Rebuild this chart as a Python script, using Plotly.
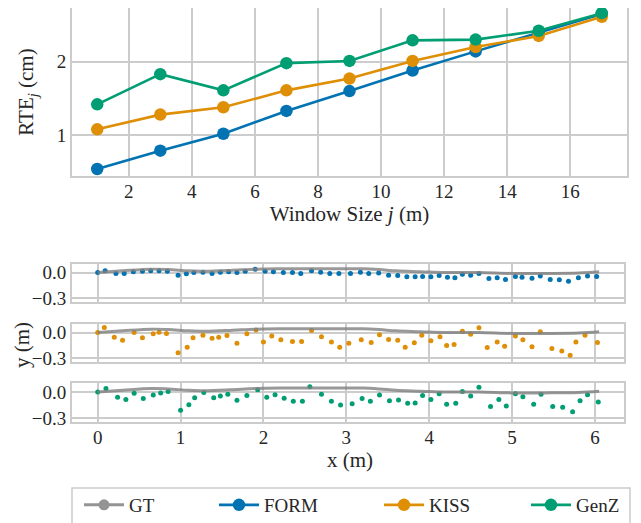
import plotly.graph_objects as go

# ---------------- data ----------------
window_sizes = [1, 3, 5, 7, 9, 11, 13, 15, 17]
rte_form = [0.54, 0.79, 1.02, 1.33, 1.60, 1.88, 2.14, 2.40, 2.65]
rte_kiss = [1.08, 1.28, 1.38, 1.61, 1.77, 2.01, 2.20, 2.35, 2.61]
rte_genz = [1.42, 1.83, 1.61, 1.98, 2.01, 2.29, 2.30, 2.42, 2.66]

gt_x = [0.0, 0.3, 0.65, 0.85, 1.1, 1.3, 1.6, 1.9, 2.2, 2.6, 3.0, 3.2, 3.4, 3.6, 3.9,
        4.2, 4.6, 5.0, 5.4, 5.8, 6.05]
gt_y = [0.0, 0.02, 0.04, 0.035, 0.02, 0.015, 0.025, 0.04, 0.045, 0.045, 0.045, 0.045,
        0.035, 0.02, 0.01, 0.0, 0.0, -0.01, -0.01, -0.005, 0.01]

form_x = [0.0, 0.09, 0.22, 0.32, 0.43, 0.54, 0.64, 0.74, 0.84, 0.97, 1.07, 1.16, 1.27,
          1.38, 1.48, 1.58, 1.68, 1.78, 1.90, 2.02, 2.12, 2.24, 2.35, 2.45, 2.58, 2.69,
          2.80, 2.91, 3.05, 3.17, 3.27, 3.39, 3.51, 3.62, 3.73, 3.83, 3.92, 4.02, 4.12,
          4.22, 4.31, 4.40, 4.50, 4.60, 4.72, 4.82, 4.92, 5.04, 5.12, 5.24, 5.34, 5.46,
          5.57, 5.68, 5.80, 5.91, 6.02]
form_y = [0.0, 0.02, -0.01, -0.01, 0.01, 0.015, 0.02, 0.02, 0.015, -0.03, -0.015, 0.0,
          0.005, -0.01, 0.005, 0.01, 0.0, 0.015, 0.04, 0.015, 0.01, 0.0, 0.0, -0.01,
          0.02, 0.005, -0.01, -0.01, -0.01, 0.005, -0.01, -0.005, -0.03, -0.035, -0.05,
          -0.05, -0.045, -0.05, -0.035, -0.055, -0.06, -0.02, -0.03, -0.01, -0.07, -0.06,
          -0.08, -0.045, -0.055, -0.065, -0.04, -0.08, -0.085, -0.10, -0.06, -0.04, -0.045]

kiss_x = [0.0, 0.08, 0.20, 0.30, 0.44, 0.54, 0.67, 0.74, 0.83, 0.97, 1.08, 1.15, 1.27,
          1.38, 1.46, 1.56, 1.68, 1.80, 1.91, 2.00, 2.10, 2.21, 2.35, 2.46, 2.58, 2.70,
          2.82, 2.92, 3.03, 3.18, 3.30, 3.40, 3.51, 3.62, 3.71, 3.82, 3.91, 4.02, 4.13,
          4.21, 4.30, 4.40, 4.50, 4.60, 4.70, 4.82, 4.91, 5.04, 5.13, 5.24, 5.34, 5.48,
          5.60, 5.70, 5.77, 5.88, 6.03]
kiss_y = [0.0, 0.06, -0.055, -0.09, 0.0, -0.06, -0.015, 0.005, -0.01, -0.235, -0.17,
          -0.06, -0.03, -0.065, -0.055, -0.035, -0.125, -0.015, 0.03, -0.11, -0.04,
          -0.085, -0.105, -0.105, 0.025, -0.05, -0.11, -0.17, -0.125, -0.085, -0.115,
          -0.025, -0.08, -0.09, -0.17, -0.12, -0.03, -0.095, -0.05, -0.15, -0.14, 0.015,
          -0.02, 0.055, -0.175, -0.11, -0.16, -0.04, -0.085, -0.165, 0.01, -0.185,
          -0.215, -0.265, -0.11, -0.03, -0.115]

genz_x = [0.0, 0.10, 0.24, 0.34, 0.44, 0.55, 0.67, 0.76, 0.85, 1.00, 1.10, 1.17, 1.28,
          1.40, 1.48, 1.57, 1.68, 1.80, 1.93, 2.04, 2.14, 2.25, 2.36, 2.47, 2.56, 2.70,
          2.82, 2.93, 3.07, 3.19, 3.29, 3.40, 3.52, 3.63, 3.74, 3.83, 3.92, 4.02, 4.12,
          4.21, 4.32, 4.40, 4.50, 4.60, 4.74, 4.84, 4.93, 5.04, 5.13, 5.26, 5.35, 5.49,
          5.61, 5.73, 5.82, 5.91, 6.04]
genz_y = [0.0, 0.04, -0.06, -0.085, -0.015, -0.075, -0.035, -0.01, 0.005, -0.21, -0.145,
          -0.065, -0.005, -0.065, -0.045, -0.025, -0.095, -0.04, 0.025, -0.06, -0.03,
          -0.07, -0.105, -0.105, 0.06, -0.025, -0.105, -0.15, -0.135, -0.075, -0.105,
          -0.035, -0.10, -0.09, -0.13, -0.125, -0.04, -0.085, -0.02, -0.14, -0.13, 0.005,
          -0.045, 0.055, -0.165, -0.085, -0.16, -0.02, -0.055, -0.14, -0.025, -0.165,
          -0.175, -0.225, -0.10, -0.03, -0.115]

top_xticks = [2, 4, 6, 8, 10, 12, 14, 16]
top_yticks = [1, 2]
bot_xticks = [0, 1, 2, 3, 4, 5, 6]
bot_yticks = [-0.3, 0.0]

# ---------------- style ----------------
PAGE_W, PAGE_H = 641, 523
OFF = 8  # default page margin around the plot div
W, H = PAGE_W - OFF, PAGE_H - OFF
C_GT = "#949494"
C_FORM = "#0173b2"
C_KISS = "#de8f05"
C_GENZ = "#029e73"
FONT = "Liberation Serif, Times New Roman, serif"
GRID = "#cccccc"
TXT = "#262626"
TICK_SIZE = 19
LABEL_SIZE = 21


def px_x(v):
    return min(1.0, max(0.0, (v - OFF) / W))


def px_y(v):
    return 1 - (v - OFF) / H


def clampy(v):
    return min(1.0, max(0.0, px_y(v)))


fig = go.Figure()

# legend proxy for GT
fig.add_trace(go.Scatter(x=[None], y=[None], mode="lines+markers", name="GT",
                         line=dict(color=C_GT, width=3), marker=dict(size=11, color=C_GT),
                         xaxis="x", yaxis="y", legend="legend"))
for name, vals, col, lg in [("FORM", rte_form, C_FORM, "legend2"),
                            ("KISS", rte_kiss, C_KISS, "legend3"),
                            ("GenZ", rte_genz, C_GENZ, "legend4")]:
    fig.add_trace(go.Scatter(x=window_sizes, y=vals, mode="lines+markers", name=name,
                             line=dict(color=col, width=2.6),
                             marker=dict(size=12.5, color=col),
                             xaxis="x", yaxis="y", legend=lg))

panels = [("x2", "y2", form_x, form_y, C_FORM),
          ("x3", "y3", kiss_x, kiss_y, C_KISS),
          ("x4", "y4", genz_x, genz_y, C_GENZ)]
for xa, ya, px, py, col in panels:
    fig.add_trace(go.Scatter(x=px, y=py, mode="markers", showlegend=False,
                             marker=dict(size=5, color=col), xaxis=xa, yaxis=ya))
    fig.add_trace(go.Scatter(x=gt_x, y=gt_y, mode="lines", showlegend=False,
                             line=dict(color="rgba(128,128,128,0.8)", width=3,
                                       shape="spline", smoothing=1.0),
                             xaxis=xa, yaxis=ya))

axis_common = dict(showgrid=True, gridcolor=GRID, gridwidth=1.5, zeroline=False,
                   showline=True, linecolor=GRID, linewidth=2, mirror=True, ticks="",
                   automargin=False,
                   tickfont=dict(family=FONT, size=TICK_SIZE, color=TXT))


def legend_at(xpage):
    return dict(orientation="h", x=px_x(xpage), y=px_y(486), xanchor="left",
                yanchor="top", borderwidth=0, bgcolor="rgba(0,0,0,0)",
                font=dict(family=FONT, size=TICK_SIZE, color=TXT), itemwidth=40)


fig.update_layout(
    width=W, height=H,
    margin=dict(l=0, r=0, t=0, b=0, autoexpand=False),
    paper_bgcolor="white", plot_bgcolor="white",
    font=dict(family=FONT, size=TICK_SIZE, color=TXT),
    showlegend=True,
    legend=legend_at(79),
    legend2=legend_at(214),
    legend3=legend_at(379),
    legend4=legend_at(526),
    xaxis=dict(domain=[px_x(72), px_x(627)], range=[0.2, 17.8], tickvals=top_xticks,
               ticklabelstandoff=-3,
               title=dict(text="Window Size <i>j</i> (m)", standoff=0,
                          font=dict(family=FONT, size=LABEL_SIZE, color=TXT)),
               anchor="y", **axis_common),
    # top edge of the page area available is y=8; keep the reference's scale
    yaxis=dict(domain=[clampy(176), clampy(8)], range=[0.445, 2.73], tickvals=top_yticks,
               ticklabelstandoff=0,
               title=dict(text="RTE<sub><i>j</i></sub> (cm)", standoff=17,
                          font=dict(family=FONT, size=LABEL_SIZE, color=TXT)),
               anchor="x", **axis_common),
)

bot_domains = [(264, 301.7), (324, 361.7), (383.3, 421.7)]
for i, (xa, ya, *_rest) in enumerate(panels):
    n = i + 2
    top, bot = bot_domains[i]
    xdict = dict(domain=[px_x(72), px_x(624)], range=[-0.31, 6.35], tickvals=bot_xticks,
                 anchor=ya, **axis_common)
    if n < 4:
        xdict["showticklabels"] = False
        xdict["matches"] = "x4"
    else:
        xdict["ticklabelstandoff"] = -3
    ydict = dict(domain=[clampy(bot), clampy(top)], range=[-0.34, 0.10],
                 tickvals=bot_yticks, tickformat=".1f", ticklabelstandoff=0, anchor=xa,
                 **axis_common)
    fig.update_layout(**{f"xaxis{n}": xdict, f"yaxis{n}": ydict})

fig.add_annotation(text="x (m)", x=px_x(350), y=px_y(460), xref="paper",
                   yref="paper", xanchor="center", yanchor="middle", showarrow=False,
                   font=dict(family=FONT, size=LABEL_SIZE, color=TXT))
fig.add_annotation(text="y (m)", textangle=-90, x=px_x(22), y=px_y(345), xref="paper",
                   yref="paper", xanchor="center", yanchor="middle", showarrow=False,
                   font=dict(family=FONT, size=LABEL_SIZE, color=TXT))

# legend frame
fig.add_shape(type="rect", xref="paper", yref="paper",
              x0=px_x(72), x1=px_x(630), y0=px_y(488), y1=px_y(545),
              line=dict(color=GRID, width=1.5), fillcolor="rgba(0,0,0,0)", layer="below")

fig.write_html("out.html")
